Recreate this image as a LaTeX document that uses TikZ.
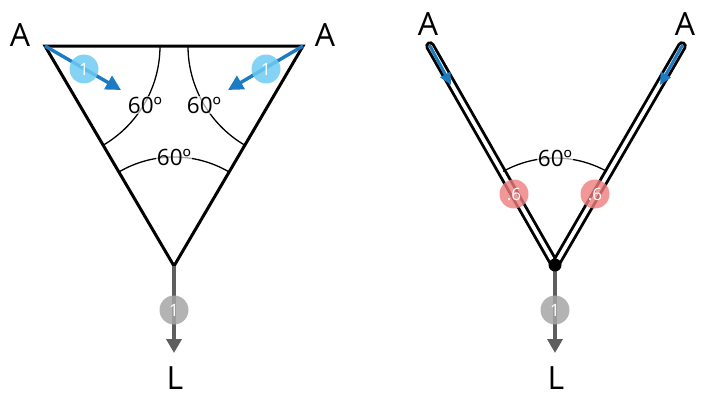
\documentclass[tikz,border=0pt]{standalone}
\usepackage{fontspec}
\setmainfont{Open Sans}
\usetikzlibrary{arrows.meta}
\definecolor{ablue}{HTML}{1B7BC3}
\definecolor{cblue}{HTML}{6FCBF3}
\definecolor{cgray}{HTML}{A6A6A6}
\definecolor{agray}{HTML}{5E5E5E}
\definecolor{cred}{HTML}{EE7D7D}
\begin{document}
\begin{tikzpicture}[x=1pt,y=-1pt,
  edge/.style={line width=3pt,line join=miter},
  dbl/.style={line width=2.9pt,double=white,double distance=3.8pt,line cap=round},
  arcline/.style={line width=1.3pt},
  ang/.style={font=\fontsize{22.5}{26}\selectfont,fill=white,fill opacity=0.65,text opacity=1,inner sep=1pt},
  vlabel/.style={font=\fontsize{32}{36}\selectfont,inner sep=0pt},
  bluearrow/.style={ablue,line width=3.4pt,-{Triangle[length=15pt,width=15pt]}},
  innerarrow/.style={ablue,line width=3pt,line cap=round,-{Triangle[length=12pt,width=11pt]}},
  grayarrow/.style={agray,line width=3.6pt,-{Triangle[length=14pt,width=15pt]}},
  badge/.style={circle,minimum size=29pt,inner sep=0pt,text=white,font=\fontsize{17}{19}\selectfont},
]
\useasboundingbox (0,0) rectangle (720,413);

% ---------- left figure ----------
\coordinate (L1) at (45,46);
\coordinate (R1) at (303,46);
\coordinate (B1) at (174,266);
\coordinate (tL) at (121,90);
\coordinate (tR) at (228,90);
\coordinate (down1) at (174,353);

\draw[edge] (L1) -- (R1) -- (B1) -- cycle;

\draw[arcline] (L1) ++(0:115) arc[start angle=0,end angle=60,radius=115];
\draw[arcline] (R1) ++(180:115) arc[start angle=180,end angle=120,radius=115];
\draw[arcline] (B1) ++(-60:109) arc[start angle=-60,end angle=-120,radius=109];

\node[ang] (a1) at (145,105) {60º};
\node[ang] (a2) at (204,105) {60º};
\node[ang] (a3) at (174,157) {60º};

\draw[bluearrow] (L1) -- (tL);
\draw[bluearrow] (R1) -- (tR);
\node[badge,fill=cblue,fill opacity=0.85,text opacity=1] (b1) at (84,69) {1};
\node[badge,fill=cblue,fill opacity=0.85,text opacity=1] (b2) at (266,69) {1};

\draw[grayarrow] (B1) -- (down1);
\node[badge,fill=cgray,fill opacity=0.85,text opacity=1] (g1) at (174,310) {1};

\node[vlabel] (A1) at (20,35) {A};
\node[vlabel] (A2) at (325,35) {A};
\node[vlabel] (Lb1) at (175,378) {L};

% ---------- right figure ----------
\coordinate (L2) at (430,46);
\coordinate (R2) at (682,46);
\coordinate (B2) at (555,265);
\coordinate (iL) at (451,85);
\coordinate (iR) at (660,85);
\coordinate (down2) at (555,353);

\draw[dbl] (L2) -- (B2);
\draw[dbl] (R2) -- (B2);
\draw[innerarrow] (L2) -- (iL);
\draw[innerarrow] (R2) -- (iR);

\draw[arcline] (B2) ++(-61:107) arc[start angle=-61,end angle=-119,radius=107];
\node[ang] (a4) at (555,158) {60º};

\node[badge,fill=cred,fill opacity=0.8,text opacity=1] (r1) at (514,194) {.6};
\node[badge,fill=cred,fill opacity=0.8,text opacity=1] (r2) at (595,194) {.6};

\draw[grayarrow] (B2) -- (down2);
\fill (B2) circle[radius=6.5pt];
\node[badge,fill=cgray,fill opacity=0.85,text opacity=1] (g2) at (555,310) {1};

\node[vlabel] (A3) at (428,24) {A};
\node[vlabel] (A4) at (685,24) {A};
\node[vlabel] (Lb2) at (556,378) {L};
\end{tikzpicture}
\end{document}
